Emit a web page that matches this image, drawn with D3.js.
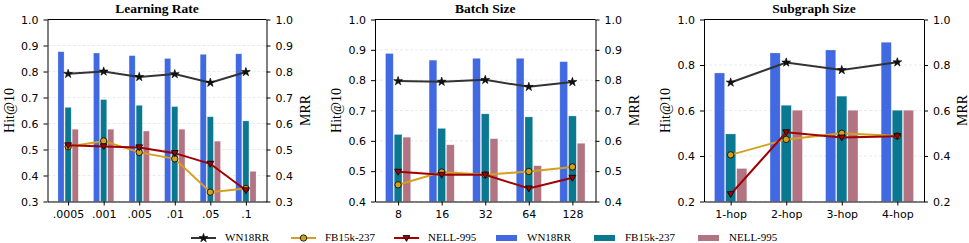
<!DOCTYPE html>
<html>
<head>
<meta charset="utf-8">
<style>
  body { margin: 0; background: #fff; }
  svg text { fill: #000; }
  .tick text { font-family: "DejaVu Sans", sans-serif; font-size: 11px; }
  .serif { font-family: "Liberation Serif", "Times New Roman", serif; }
</style>
</head>
<body>
<svg id="chart" width="969" height="243"></svg>
<script src="https://cdn.jsdelivr.net/npm/d3@7"></script>
<script>
// data
const lrCats = ['.0005', '.001', '.005', '.01', '.05', '.1']
const lrBarWN = [0.876, 0.871, 0.861, 0.850, 0.866, 0.868]
const lrBarFB = [0.662, 0.692, 0.670, 0.665, 0.626, 0.610]
const lrBarNELL = [0.578, 0.578, 0.571, 0.578, 0.532, 0.416]
const lrLineWN = [0.791, 0.800, 0.779, 0.790, 0.757, 0.798]
const lrLineFB = [0.511, 0.533, 0.489, 0.464, 0.336, 0.350]
const lrLineNELL = [0.516, 0.512, 0.508, 0.486, 0.445, 0.343]

const bsCats = ['8', '16', '32', '64', '128']
const bsBarWN = [0.888, 0.866, 0.872, 0.872, 0.861]
const bsBarFB = [0.621, 0.641, 0.689, 0.679, 0.682]
const bsBarNELL = [0.612, 0.587, 0.607, 0.518, 0.592]
const bsLineWN = [0.797, 0.795, 0.801, 0.778, 0.794]
const bsLineFB = [0.455, 0.497, 0.488, 0.499, 0.514]
const bsLineNELL = [0.498, 0.488, 0.488, 0.443, 0.478]

const sgCats = ['1-hop', '2-hop', '3-hop', '4-hop']
const sgBarWN = [0.765, 0.853, 0.866, 0.900]
const sgBarFB = [0.497, 0.623, 0.663, 0.601]
const sgBarNELL = [0.345, 0.601, 0.601, 0.601]
const sgLineWN = [0.723, 0.811, 0.778, 0.812]
const sgLineFB = [0.405, 0.473, 0.500, 0.488]
const sgLineNELL = [0.232, 0.504, 0.481, 0.487]

const lrTicks = [0.3, 0.4, 0.5, 0.6, 0.7, 0.8, 0.9, 1.0]
const bsTicks = [0.4, 0.5, 0.6, 0.7, 0.8, 0.9, 1.0]
const sgTicks = [0.2, 0.4, 0.6, 0.8, 1.0]

const seriesNames = ['WN18RR', 'FB15k-237', 'NELL-995']
const barColors = ['#4169e1', '#0a7890', '#b27483']
const lineColors = ['#333333', '#d4a020', '#a00000']

const svg = d3.select('#chart')
const plotTop = 19.5, plotBottom = 201.5

const panels = [
  { title: 'Learning Rate', cats: lrCats, bars: [lrBarWN, lrBarFB, lrBarNELL], lines: [lrLineWN, lrLineFB, lrLineNELL], ticks: lrTicks, left: 47.5, right: 266.5 },
  { title: 'Batch Size', cats: bsCats, bars: [bsBarWN, bsBarFB, bsBarNELL], lines: [bsLineWN, bsLineFB, bsLineNELL], ticks: bsTicks, left: 375, right: 595.5 },
  { title: 'Subgraph Size', cats: sgCats, bars: [sgBarWN, sgBarFB, sgBarNELL], lines: [sgLineWN, sgLineFB, sgLineNELL], ticks: sgTicks, left: 704, right: 924 }
]

const barW = 0.2
const triDown = s => `M${-s},${-s * 0.75} L${s},${-s * 0.75} L0,${s} Z`

function marker(sel, i, x, y) {
  if (i === 0) {
    sel.append('path')
      .attr('d', d3.symbol().type(d3.symbolStar).size(24)())
      .attr('transform', `translate(${x},${y})`)
      .attr('fill', '#111').attr('stroke', '#000').attr('stroke-width', 0.6)
  } else if (i === 1) {
    sel.append('circle').attr('cx', x).attr('cy', y).attr('r', 3.2)
      .attr('fill', lineColors[1]).attr('stroke', '#000').attr('stroke-width', 0.8)
  } else {
    sel.append('path').attr('d', triDown(3.4))
      .attr('transform', `translate(${x},${y})`)
      .attr('fill', lineColors[2]).attr('stroke', '#000').attr('stroke-width', 0.8)
  }
}

panels.forEach(p => {
  const n = p.cats.length
  const lo = -0.3, hi = n - 1 + 0.3, m = (hi - lo) * 0.05
  const x = d3.scaleLinear().domain([lo - m, hi + m]).range([p.left, p.right])
  const y = d3.scaleLinear().domain([p.ticks[0], 1.0]).range([plotBottom, plotTop])
  const g = svg.append('g')

  // faint grid
  g.selectAll('.grid').data(p.ticks).join('line')
    .attr('x1', p.left).attr('x2', p.right)
    .attr('y1', d => y(d)).attr('y2', d => y(d))
    .attr('stroke', '#e4e4e4').attr('stroke-width', 0.8).attr('stroke-dasharray', '3,2')

  // bars
  p.bars.forEach((vals, si) => {
    g.selectAll(null).data(vals).join('rect')
      .attr('x', (d, i) => x(i + (si - 1) * barW - barW / 2) + 0.5)
      .attr('width', x(barW) - x(0) - 1)
      .attr('y', d => y(d))
      .attr('height', d => y(p.ticks[0]) - y(d))
      .attr('fill', barColors[si])
      .attr('stroke', '#fff').attr('stroke-opacity', 0.4).attr('stroke-width', 0.6)
  })

  // lines
  p.lines.forEach((vals, si) => {
    g.append('path').datum(vals)
      .attr('d', d3.line().x((d, i) => x(i)).y(d => y(d)))
      .attr('fill', 'none').attr('stroke', lineColors[si]).attr('stroke-width', 2)
    vals.forEach((d, i) => marker(g, si, x(i), y(d)))
  })

  // axes
  const fmt = d3.format('.1f')
  g.append('g').attr('transform', `translate(${p.left},0)`)
    .call(d3.axisLeft(y).tickValues(p.ticks).tickFormat(fmt).tickSize(4).tickSizeOuter(0).tickPadding(5))
  g.append('g').attr('transform', `translate(${p.right},0)`)
    .call(d3.axisRight(y).tickValues(p.ticks).tickFormat(fmt).tickSize(4).tickSizeOuter(0).tickPadding(5))
  g.append('g').attr('transform', `translate(0,${plotBottom})`)
    .call(d3.axisBottom(x).tickValues(d3.range(n)).tickFormat(i => p.cats[i]).tickSize(4).tickSizeOuter(0).tickPadding(5))
  g.append('line').attr('x1', p.left).attr('x2', p.right).attr('y1', plotTop).attr('y2', plotTop).attr('stroke', '#000')
  g.selectAll('.domain').attr('stroke', '#000')
  g.selectAll('.tick line').attr('stroke', '#000')

  // titles
  g.append('text').attr('class', 'serif')
    .attr('x', (p.left + p.right) / 2).attr('y', 13)
    .attr('text-anchor', 'middle').attr('font-weight', 'bold').attr('font-size', 13.5)
    .text(p.title)
  g.append('text').attr('class', 'serif')
    .attr('transform', `translate(${p.left - 34},${(plotTop + plotBottom) / 2}) rotate(-90)`)
    .attr('text-anchor', 'middle').attr('font-size', 14)
    .text('Hit@10')
  g.append('text').attr('class', 'serif')
    .attr('transform', `translate(${p.right + 43},${(plotTop + plotBottom) / 2}) rotate(-90)`)
    .attr('text-anchor', 'middle').attr('font-size', 14)
    .text('MRR')
})

// legend
const leg = svg.append('g').attr('class', 'serif')
const legY = 238
const lineItemX = [191, 291, 394]
const barItemX = [496, 594, 698]
seriesNames.forEach((name, i) => {
  const lx = lineItemX[i]
  leg.append('line').attr('x1', lx).attr('x2', lx + 25).attr('y1', legY).attr('y2', legY)
    .attr('stroke', lineColors[i]).attr('stroke-width', 2)
  marker(leg, i, lx + 12.5, legY)
  leg.append('text').attr('x', lx + 34).attr('y', legY + 3).attr('font-size', 11).text(name)
  const bx = barItemX[i]
  leg.append('rect').attr('x', bx).attr('y', legY - 3).attr('width', 21).attr('height', 6).attr('fill', barColors[i])
  leg.append('text').attr('x', bx + 31).attr('y', legY + 3).attr('font-size', 11).text(name)
})
</script>
</body>
</html>
